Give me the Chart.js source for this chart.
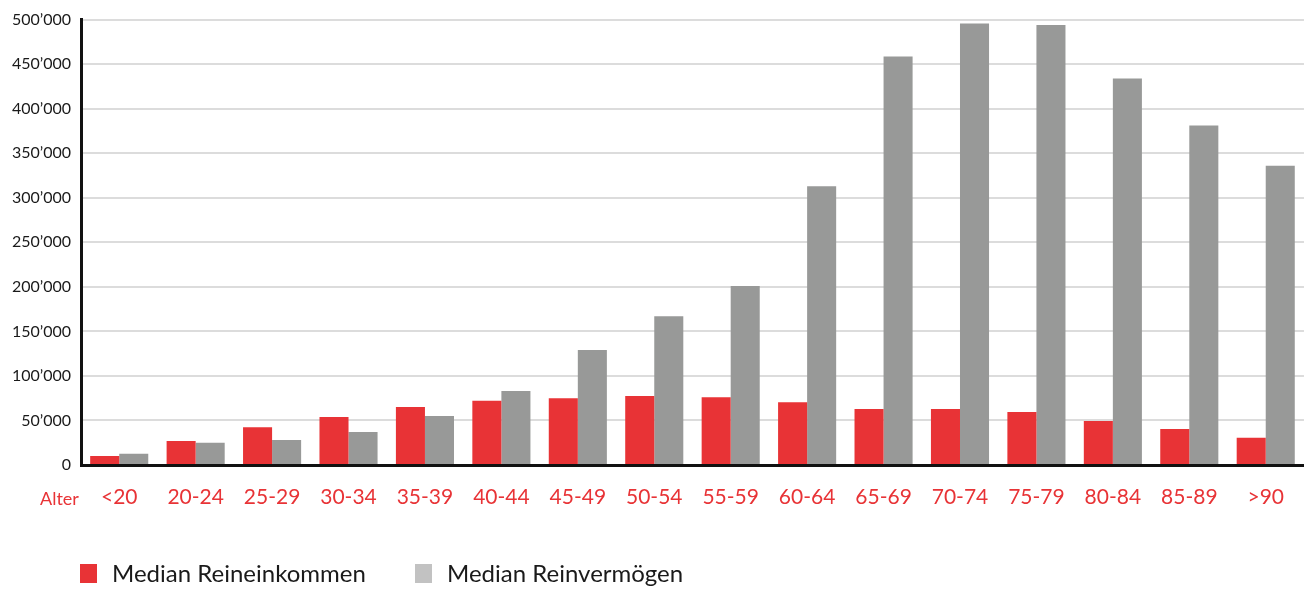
<!DOCTYPE html>
<html>
<head>
<meta charset="utf-8">
<script src="https://cdn.jsdelivr.net/npm/chart.js@4/dist/chart.umd.min.js"></script>
<style>
  body { margin: 0; background: #fff; }
  #wrap { width: 1304px; height: 590px; position: relative; }
  #legend { position: absolute; left: 0; top: 558px; font-family: Lato, 'Open Sans', sans-serif;
            font-size: 24px; color: #1a1a1a; }
  .item { position: absolute; white-space: nowrap; line-height: 30px; }
  .box { position: absolute; width: 17px; height: 19px; top: 6px; }
  .txt { position: absolute; left: 32px; top: 0; }
</style>
</head>
<body>
<div id="wrap">
  <canvas id="myChart"></canvas>
  <div id="legend"></div>
</div>
<script>
// age groups and median values (CHF)
var ageGroups = ["<20","20-24","25-29","30-34","35-39","40-44","45-49","50-54",
  "55-59","60-64","65-69","70-74","75-79","80-84","85-89",">90"];
var incomeMedian = [10000, 27000, 42500, 54000, 65000, 72000, 75000, 77500,
  76000, 70500, 63000, 63000, 59500, 49500, 40500, 30500];
var wealthMedian = [12500, 25000, 28000, 37000, 55000, 83000, 129000, 167000,
  201000, 313000, 458500, 495500, 494000, 434000, 381000, 336000];
var seriesNames = ["Median Reineinkommen", "Median Reinvermögen"];
var yTicks = [0, 50000, 100000, 150000, 200000, 250000, 300000, 350000, 400000, 450000, 500000];

var red = '#e83336';
var grey = '#989998';
var legendColors = [red, '#c2c2c2'];
var legendLeft = [80, 415];
var fontFamily = "Lato, 'Open Sans', sans-serif";

function swissNumber(v){            // 500000 -> 500’000
  if (v == 0) return "0";
  var s = String(v);
  return s.replace(/\B(?=(\d{3})+(?!\d))/g, "’");
}

// "Alter" caption left of the category labels
var alterLabel = {
  id: 'alterLabel',
  afterDraw: function(chart){
    var ctx = chart.ctx;
    var xs = chart.scales.x;
    ctx.save();
    ctx.font = "18px " + fontFamily;
    ctx.fillStyle = red;
    ctx.textAlign = 'left';
    ctx.textBaseline = 'middle';
    ctx.fillText("Alter", 40, xs.top + 34);
    ctx.restore();
  }
};

var chartDiv = document.getElementById('myChart').getContext('2d');
var chart = new Chart(chartDiv, {
  type: 'bar',
  data: {
    labels: ageGroups,
    datasets: [
      {
        label: seriesNames[0],
        data: incomeMedian,
        backgroundColor: red
      },
      {
        label: seriesNames[1],
        data: wealthMedian,
        backgroundColor: grey
      }
    ]
  },
  options: {
    responsive: true,
    maintainAspectRatio: false,
    animation: false,
    categoryPercentage: 0.76,
    barPercentage: 1.0,
    layout: { padding: { top: 19, right: 0, left: 0, bottom: 0 } },
    plugins: {
      tooltip: { enabled: false },
      legend: { display: false }
    },
    scales: {
      x: {
        grid: { display: false, drawTicks: false },
        border: { display: true, color: '#111', width: 3 },
        ticks: {
          color: red,
          padding: 20,
          font: { family: fontFamily, size: 21 }
        },
        afterFit: function(scale){ scale.height = 125; }
      },
      y: {
        min: 0,
        max: 500000,
        grid: { color: '#dcdcdc', lineWidth: 2, drawTicks: false },
        border: { display: true, color: '#111', width: 3 },
        afterBuildTicks: function(scale){
          scale.ticks = yTicks.map(function(v){ return { value: v }; });
        },
        ticks: {
          color: '#1a1a1a',
          padding: 10,
          font: { family: fontFamily, size: 16 },
          callback: function(v){ return swissNumber(v); }
        },
        afterFit: function(scale){ scale.width = 81; }
      }
    }
  },
  plugins: [alterLabel]
});

// legend below the plot
var legend = document.getElementById('legend');
chart.data.datasets.forEach(function(ds, i){
  var item = document.createElement('div');
  item.className = 'item';
  item.style.left = legendLeft[i] + 'px';
  item.innerHTML = "<span class='box' style='background:" + legendColors[i] + "'></span>" +
                   "<span class='txt'>" + ds.label + "</span>";
  legend.appendChild(item);
});
</script>
</body>
</html>
